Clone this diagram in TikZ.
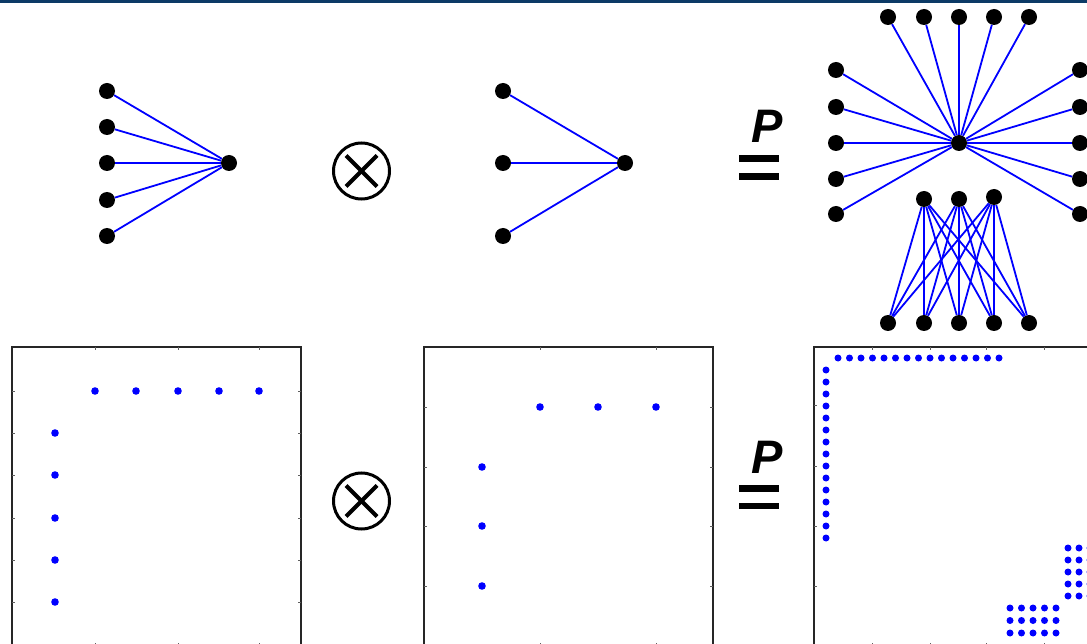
\documentclass[tikz,border=0pt]{standalone}
\usepackage{fontspec}
\setmainfont{Liberation Sans}
\usetikzlibrary{positioning}
\definecolor{barblue}{RGB}{12,58,102}
\definecolor{tickgray}{RGB}{95,95,95}

\begin{document}
\begin{tikzpicture}[
  x=1pt, y=-1pt,
  vtx/.style={circle,fill=black,inner sep=0pt,minimum size=16pt},
  edge/.style={blue,line width=1.8pt},
  prod/.style={circle,draw,line width=3pt,minimum size=56pt,inner sep=0pt},
  cross/.style={line width=4pt},
  plabel/.style={font=\fontsize{47}{47}\selectfont\bfseries\itshape,inner sep=0pt,anchor=base},
  eqbar/.style={line width=6.5pt},
  plotframe/.style={draw=black!85,line width=1.2pt},
  tk/.style={tickgray,line width=1pt},
  pdot/.style={blue}]
\useasboundingbox (0,0) rectangle (1087,644);
\clip (0,0) rectangle (1087,644);
\fill[barblue] (0,0) rectangle (1087,3.5);

% star with five leaves
\foreach \i/\y in {1/91,2/127,3/163,4/200,5/236}
  \node[vtx] (a\i) at (107,\y) {};
\node[vtx] (ac) at (229,163) {};
\foreach \i in {1,...,5} \draw[edge] (a\i) -- (ac);

% star with three leaves
\foreach \i/\y in {1/91,2/163,3/236}
  \node[vtx] (s\i) at (503,\y) {};
\node[vtx] (sc) at (625,163) {};
\foreach \i in {1,2,3} \draw[edge] (s\i) -- (sc);

% product signs
\node[prod] (prod1) at (361.5,171) {};
\draw[cross] (prod1.center) ++(-15.5,-15.5) -- ++(31,31);
\draw[cross] (prod1.center) ++(15.5,-15.5) -- ++(-31,31);
\node[prod] (prod2) at (361.5,501) {};
\draw[cross] (prod2.center) ++(-15.5,-15.5) -- ++(31,31);
\draw[cross] (prod2.center) ++(15.5,-15.5) -- ++(-31,31);

% permutation-equal signs
\node[plabel] (peq1) at (767,143) {P};
\draw[eqbar] (739,158.5) -- (779,158.5);
\draw[eqbar] (739,176.5) -- (779,176.5);
\node[plabel] (peq2) at (767,473) {P};
\draw[eqbar] (739,488.5) -- (779,488.5);
\draw[eqbar] (739,506) -- (779,506);

% product graph
\node[vtx] (c) at (959,143) {};
\foreach \i/\x in {1/888,2/924,3/959,4/994,5/1029} {
  \node[vtx] (t\i) at (\x,17) {};
  \node[vtx] (b\i) at (\x,323) {};
}
\foreach \i/\y in {1/70,2/107,3/143,4/179,5/214} {
  \node[vtx] (l\i) at (836,\y) {};
  \node[vtx] (r\i) at (1080,\y) {};
}
\node[vtx] (m1) at (924,199) {};
\node[vtx] (m2) at (959,199) {};
\node[vtx] (m3) at (994,197) {};
\foreach \i in {1,...,5} {
  \draw[edge] (t\i) -- (c);
  \draw[edge] (l\i) -- (c);
  \draw[edge] (r\i) -- (c);
}
\foreach \j in {1,2,3}
  \foreach \i in {1,...,5} \draw[edge] (m\j) -- (b\i);

% sparsity plot 1
\draw[plotframe] (12,347) rectangle (301,646);
\foreach \x in {95,178,259} {
  \draw[tk] (\x,347) -- ++(0,3);
  \draw[tk] (\x,646) -- ++(0,-3);
}
\foreach \y in {391,433,475,518,560,602} {
  \draw[tk] (12,\y) -- ++(3,0);
  \draw[tk] (301,\y) -- ++(-3,0);
}
\foreach \x in {95,136,178,219,259} \fill[pdot] (\x,391) circle (3.8);
\foreach \y in {433,475,518,560,602} \fill[pdot] (55,\y) circle (3.8);

% sparsity plot 2
\draw[plotframe] (424,347) rectangle (713,646);
\foreach \x in {540,656} {
  \draw[tk] (\x,347) -- ++(0,3);
  \draw[tk] (\x,646) -- ++(0,-3);
}
\foreach \y in {407,467,526,586} {
  \draw[tk] (424,\y) -- ++(3,0);
  \draw[tk] (713,\y) -- ++(-3,0);
}
\foreach \x in {540,598,656} \fill[pdot] (\x,407) circle (3.8);
\foreach \y in {467,526,586} \fill[pdot] (482,\y) circle (3.8);

% sparsity plot 3
\draw[plotframe] (814,347) rectangle (1104,646);
\foreach \x in {872,930,986,1044} {
  \draw[tk] (\x,347) -- ++(0,3);
  \draw[tk] (\x,646) -- ++(0,-3);
}
\foreach \y in {405,466,526,586} \draw[tk] (814,\y) -- ++(3,0);
\foreach \k in {0,...,14} {
  \fill[pdot] (838+11.5*\k,358) circle (3.5);
  \fill[pdot] (826,370+12*\k) circle (3.5);
}
\foreach \i in {0,...,4}
  \foreach \j in {0,1,2} \fill[pdot] (1010+11.5*\i,608+12.5*\j) circle (3.5);
\foreach \i in {0,1,2}
  \foreach \j in {0,...,4} \fill[pdot] (1068+11*\i,548+12*\j) circle (3.5);
\end{tikzpicture}
\end{document}
